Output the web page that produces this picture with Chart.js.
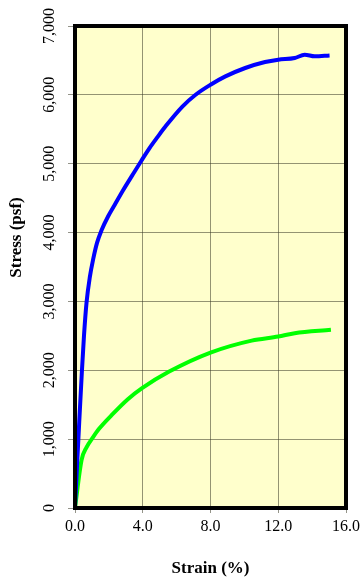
<!DOCTYPE html>
<html>
<head>
<meta charset="utf-8">
<script src="https://cdn.jsdelivr.net/npm/chart.js@4/dist/chart.umd.min.js"></script>
<style>
  html, body { margin: 0; padding: 0; background: #ffffff; }
  #wrap { width: 364px; height: 579px; }
</style>
</head>
<body>
<div id="wrap"><canvas id="c" width="364" height="579"></canvas></div>
<script>
// Upper test: strain (%) and stress (psf)
const strainBlue = [0, 0.12, 0.25, 0.41, 0.53, 0.68, 0.88, 1.07, 1.30, 1.56, 1.95, 2.34, 2.83, 3.38, 3.91, 4.40, 4.88, 5.37, 6.34, 7.12, 8.00, 8.88, 10.05, 11.22, 12.00, 12.97, 13.56, 14.15, 15.03];
const stressBlue = [0, 620, 1250, 2000, 2500, 2980, 3360, 3610, 3850, 4030, 4233, 4400, 4610, 4830, 5040, 5227, 5390, 5550, 5830, 6002, 6147, 6268, 6390, 6477, 6511, 6535, 6583, 6559, 6573];

// Lower test: strain (%) and stress (psf)
const strainGreen = [0, 0.39, 0.68, 1.07, 1.42, 2.15, 3.12, 3.96, 5.56, 8.00, 10.43, 12.00, 12.97, 15.11];
const stressGreen = [0, 698, 880, 1030, 1150, 1345, 1580, 1740, 1981, 2257, 2431, 2490, 2539, 2587];

// Axis ranges and tick steps
const xTicks = [0, 4, 8, 12, 16];
const yTicks = [0, 1000, 2000, 3000, 4000, 5000, 6000, 7000];

const xTitle = 'Strain (%)';
const yTitle = 'Stress (psf)';

const toPoints = (xs, ys) => xs.map((x, i) => ({ x: x, y: ys[i] }));

const serif = '"Liberation Serif", "Times New Roman", serif';
const gridColor = 'rgba(60,60,40,0.55)';

// Yellow plot background, black frame and the rotated y title
const plotDecor = {
  id: 'plotDecor',
  beforeDatasetsDraw(chart) {
    const { ctx, chartArea: a } = chart;
    ctx.save();
    ctx.globalCompositeOperation = 'destination-over';
    ctx.fillStyle = '#FFFFCC';
    ctx.fillRect(a.left, a.top, a.right - a.left, a.bottom - a.top);
    ctx.restore();
  },
  afterDraw(chart) {
    const { ctx, chartArea: a } = chart;
    ctx.save();
    ctx.strokeStyle = '#000000';
    ctx.lineWidth = 4;
    ctx.strokeRect(a.left, a.top, a.right - a.left, a.bottom - a.top);
    ctx.translate(17, 237.5);
    ctx.rotate(-Math.PI / 2);
    ctx.fillStyle = '#000000';
    ctx.font = 'bold 17px ' + serif;
    ctx.textAlign = 'center';
    ctx.textBaseline = 'middle';
    ctx.fillText(yTitle, 0, 0);
    ctx.restore();
  }
};

new Chart(document.getElementById('c'), {
  type: 'line',
  data: {
    datasets: [
      {
        data: toPoints(strainBlue, stressBlue),
        borderColor: '#0000FF',
        borderWidth: 4,
        pointRadius: 0,
        cubicInterpolationMode: 'monotone',
        fill: false
      },
      {
        data: toPoints(strainGreen, stressGreen),
        borderColor: '#00FF00',
        borderWidth: 4,
        pointRadius: 0,
        cubicInterpolationMode: 'monotone',
        fill: false
      }
    ]
  },
  options: {
    responsive: false,
    animation: false,
    events: [],
    layout: { padding: { top: 26, right: 15.5, left: 0, bottom: 0 } },
    plugins: { legend: { display: false }, tooltip: { enabled: false }, title: { display: false } },
    scales: {
      x: {
        type: 'linear',
        min: xTicks[0],
        max: xTicks[xTicks.length - 1],
        afterBuildTicks: s => { s.ticks = xTicks.map(v => ({ value: v })); },
        afterFit: s => { s.height = 71; },
        grid: { color: gridColor, lineWidth: 1, tickLength: 5, drawTicks: true },
        border: { display: false },
        ticks: {
          color: '#000000',
          font: { family: serif, size: 16 },
          padding: 4,
          maxRotation: 0,
          callback: v => Number(v).toFixed(1)
        },
        title: {
          display: true,
          text: xTitle,
          color: '#000000',
          font: { family: serif, size: 17, weight: 'bold' },
          padding: { top: 14, bottom: 0 }
        }
      },
      y: {
        type: 'linear',
        min: yTicks[0],
        max: yTicks[yTicks.length - 1],
        afterBuildTicks: s => { s.ticks = yTicks.map(v => ({ value: v })); },
        afterFit: s => { s.width = 75; },
        grid: { color: gridColor, lineWidth: 1, tickLength: 7, drawTicks: true },
        border: { display: false },
        ticks: {
          color: '#000000',
          font: { family: serif, size: 16 },
          padding: 0,
          minRotation: 90,
          maxRotation: 90,
          crossAlign: 'center',
          callback: v => Number(v).toLocaleString('en-US')
        }
      }
    }
  },
  plugins: [plotDecor]
});
</script>
</body>
</html>
